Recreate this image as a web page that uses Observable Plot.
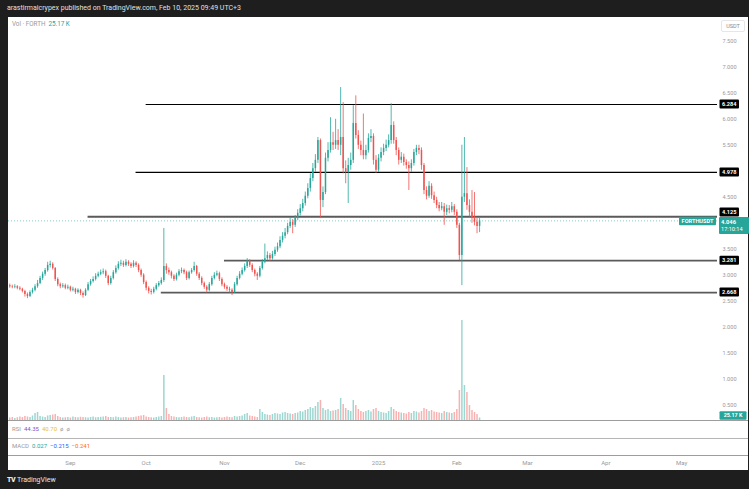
<!DOCTYPE html>
<html><head><meta charset="utf-8">
<script src="https://cdn.jsdelivr.net/npm/d3@7"></script>
<script src="https://cdn.jsdelivr.net/npm/@observablehq/plot@0.6"></script>
<style>
html,body{margin:0;padding:0}
body{width:749px;height:489px;background:#1e1e1e;position:relative;overflow:hidden;font-family:Roboto,"Liberation Sans",sans-serif;}
.abs{position:absolute}
#panel{left:8px;top:17px;width:740px;height:453px;background:#fff}
#hdr{left:7px;top:4px;font-size:7px;color:#e0e0e0;line-height:9px;white-space:nowrap}
#vol,#main,#time{left:8px}
#vol,#main{top:17px}
#time{top:455px}
#legend{left:12px;top:20px;font-size:6.3px;color:#9a9a9a;line-height:8px;white-space:nowrap}
#legend span{color:#26a69a;margin-left:3px}
#usdt{left:721px;top:20px;width:22px;height:10px;border:1px solid #e6e6e6;border-radius:2px;font-size:5.5px;color:#8a8a8a;text-align:center;line-height:10px;background:#fff}
.sep{left:8px;width:740px;height:1px;background:#9d9d9d}
.pane{left:12px;font-size:6px;line-height:8px;color:#9a9a9a;white-space:nowrap}
.pane span{margin-left:3px}
#foot{left:7px;top:475px;font-size:7px;color:#e8e8e8;line-height:10px;white-space:nowrap}
#foot b{font-weight:900;letter-spacing:-0.5px;margin-right:2px}
</style></head>
<body>
<div id="hdr" class="abs">arastirmaicrypex published on TradingView.com, Feb 10, 2025 09:49 UTC+3</div>
<div id="panel" class="abs"></div>
<div id="vol" class="abs"></div>
<div id="main" class="abs"></div>
<div id="legend" class="abs">Vol · FORTH<span>25.17 K</span></div>
<div id="usdt" class="abs">USDT</div>
<div class="sep abs" style="top:420px"></div>
<div class="sep abs" style="top:438px;background:#b5b5b5"></div>
<div class="sep abs" style="top:455px"></div>
<div class="pane abs" style="top:425px">RSI<span style="color:#7e57c2">44.35</span><span style="color:#e8c21c">40.70</span><span>ø</span><span>ø</span></div>
<div class="pane abs" style="top:442px">MACD<span style="color:#26a69a">0.027</span><span style="color:#2962ff">−0.215</span><span style="color:#ff6d00">−0.241</span></div>
<div id="time" class="abs"></div>
<div id="foot" class="abs"><b>TV</b>TradingView</div>
<script>
// ---------- data (daily candles FORTH/USDT, from 2024-08-08) ----------
const startDay = "2024-08-08";
const opens = [
 2.80,2.78,2.77,2.78,2.75,2.73,2.69,2.63,2.59,2.67,
 2.71,2.78,2.84,2.94,3.02,3.09,3.19,3.21,3.13,2.92,
 2.82,2.78,2.80,2.75,2.77,2.71,2.73,2.67,2.71,2.65,
 2.61,2.71,2.82,2.88,2.92,2.98,3.02,3.05,3.07,2.98,
 2.84,2.94,3.05,3.13,3.21,3.23,3.19,3.25,3.21,3.17,
 3.23,3.19,3.09,3.00,2.86,2.75,2.69,2.67,2.73,2.80,
 2.84,2.90,3.17,3.09,3.05,2.98,2.92,3.00,3.07,3.09,
 3.05,2.94,3.05,3.09,3.17,3.02,2.94,2.84,2.77,2.71,
 2.82,2.94,3.00,3.03,2.92,2.82,2.77,2.73,2.71,2.67,
 2.82,2.94,3.02,3.09,3.17,3.27,3.19,3.09,3.02,2.98,
 3.13,3.25,3.32,3.38,3.32,3.40,3.48,3.55,3.67,3.75,
 3.82,3.94,4.02,3.96,4.09,4.19,4.28,4.38,4.52,4.67,
 4.86,5.05,5.21,5.59,4.44,4.59,5.25,5.40,5.55,5.50,
 5.59,5.50,5.65,5.05,4.98,5.11,5.21,5.92,5.69,5.50,
 5.40,5.30,5.40,5.63,5.67,5.21,5.02,5.25,5.36,5.44,
 5.50,5.59,5.88,5.59,5.40,5.21,5.27,5.17,5.11,5.05,
 5.15,5.36,5.44,5.40,5.11,4.63,4.52,4.71,4.53,4.44,
 4.34,4.28,4.32,4.21,4.28,4.25,4.32,4.21,3.96,3.38,
 4.50,4.57,4.34,4.21,4.09,4.02,3.94];
const highs = [
 2.83,2.81,2.82,2.80,2.78,2.75,2.71,2.66,2.70,2.75,
 2.82,2.90,2.98,3.06,3.13,3.25,3.27,3.24,3.15,2.95,
 2.85,2.84,2.83,2.81,2.79,2.77,2.75,2.74,2.73,2.68,
 2.74,2.86,2.92,2.97,3.03,3.06,3.10,3.12,3.10,3.00,
 2.98,3.09,3.18,3.26,3.29,3.27,3.30,3.28,3.24,3.28,
 3.26,3.22,3.12,3.03,2.89,2.78,2.73,2.77,2.84,2.88,
 2.95,3.90,3.22,3.14,3.08,3.01,3.04,3.11,3.14,3.12,
 3.08,3.08,3.13,3.25,3.19,3.05,2.97,2.87,2.80,2.86,
 2.98,3.05,3.08,3.06,2.95,2.85,2.80,2.77,2.74,2.86,
 2.98,3.07,3.14,3.22,3.32,3.30,3.22,3.12,3.05,3.17,
 3.30,3.60,3.45,3.42,3.46,3.54,3.62,3.74,3.82,3.90,
 4.00,4.10,4.07,4.15,4.26,4.36,4.46,4.60,4.76,4.95,
 5.15,5.32,5.65,5.62,4.70,5.35,5.55,6.03,5.75,6.00,
 5.80,6.61,6.32,5.20,5.25,5.35,6.26,6.45,5.78,5.58,
 6.10,5.50,5.72,5.80,5.72,5.30,5.32,5.45,5.52,5.60,
 5.70,6.30,5.95,5.65,5.45,5.36,5.33,5.22,5.18,5.22,
 5.42,5.50,5.50,5.45,5.15,4.70,4.80,4.76,4.60,4.50,
 4.40,4.40,4.38,4.35,4.34,4.40,4.36,4.26,4.00,5.50,
 5.65,5.07,4.45,4.63,4.59,4.10,4.10];
const lows = [
 2.75,2.74,2.74,2.72,2.70,2.66,2.58,2.55,2.57,2.64,
 2.68,2.75,2.82,2.90,2.98,3.06,3.14,3.10,2.88,2.78,
 2.74,2.75,2.72,2.72,2.68,2.68,2.63,2.64,2.61,2.56,
 2.59,2.69,2.79,2.85,2.89,2.95,2.99,3.01,2.94,2.80,
 2.81,2.91,3.02,3.10,3.17,3.15,3.16,3.17,3.13,3.14,
 3.15,3.05,2.96,2.82,2.70,2.64,2.62,2.64,2.70,2.77,
 2.81,2.86,3.02,3.00,2.93,2.88,2.89,2.97,3.03,3.01,
 2.90,2.91,3.02,3.06,2.98,2.90,2.80,2.73,2.66,2.68,
 2.79,2.91,2.97,2.88,2.78,2.73,2.69,2.66,2.61,2.65,
 2.79,2.91,2.99,3.06,3.13,3.15,3.05,2.97,2.90,2.95,
 3.10,3.22,3.28,3.27,3.29,3.36,3.44,3.51,3.62,3.70,
 3.78,3.90,3.80,3.92,4.05,4.14,4.22,4.33,4.47,4.60,
 4.80,4.98,5.15,4.09,4.30,4.55,5.18,5.35,5.40,5.42,
 5.40,5.30,4.95,4.76,4.38,5.02,5.15,5.62,5.42,5.30,
 5.22,5.22,5.35,5.55,5.12,4.96,4.98,5.18,5.30,5.38,
 5.45,5.52,5.52,5.30,5.12,5.15,5.10,5.04,4.63,4.98,
 5.10,5.30,5.32,5.02,4.55,4.45,4.48,4.46,4.38,4.28,
 4.22,4.24,3.96,4.15,4.18,4.20,4.15,3.90,3.28,2.80,
 4.40,4.25,4.12,4.00,3.95,3.80,3.82];
const closes = [
 2.78,2.77,2.78,2.75,2.73,2.69,2.63,2.59,2.67,2.71,
 2.78,2.84,2.94,3.02,3.09,3.19,3.21,3.13,2.92,2.82,
 2.78,2.80,2.75,2.77,2.71,2.73,2.67,2.71,2.65,2.61,
 2.71,2.82,2.88,2.92,2.98,3.02,3.05,3.07,2.98,2.84,
 2.94,3.05,3.13,3.21,3.23,3.19,3.25,3.21,3.17,3.23,
 3.19,3.09,3.00,2.86,2.75,2.69,2.67,2.73,2.80,2.84,
 2.90,3.17,3.09,3.05,2.98,2.92,3.00,3.07,3.09,3.05,
 2.94,3.05,3.09,3.17,3.02,2.94,2.84,2.77,2.71,2.82,
 2.94,3.00,3.03,2.92,2.82,2.77,2.73,2.71,2.67,2.82,
 2.94,3.02,3.09,3.17,3.27,3.19,3.09,3.02,2.98,3.13,
 3.25,3.32,3.38,3.32,3.40,3.48,3.55,3.67,3.75,3.82,
 3.94,4.02,3.96,4.09,4.19,4.28,4.38,4.52,4.67,4.86,
 5.05,5.21,5.59,4.44,4.59,5.25,5.40,5.55,5.50,5.59,
 5.50,5.65,5.05,4.98,5.11,5.21,5.92,5.69,5.50,5.40,
 5.30,5.40,5.63,5.67,5.21,5.02,5.25,5.36,5.44,5.50,
 5.59,5.88,5.59,5.40,5.21,5.27,5.17,5.11,5.05,5.15,
 5.36,5.44,5.40,5.11,4.63,4.52,4.71,4.53,4.44,4.34,
 4.28,4.32,4.21,4.28,4.25,4.32,4.21,3.96,3.38,4.50,
 4.57,4.34,4.21,4.09,4.02,3.94,4.046];
// volume in thousands (K)
const volumes = [
 25,30,20,28,35,30,40,35,30,45,
 70,80,40,35,30,45,50,55,60,40,
 30,25,28,30,25,35,30,28,32,30,
 28,25,30,35,28,30,32,35,40,30,
 30,28,35,30,25,28,30,25,28,30,
 35,40,45,50,35,30,28,25,30,35,
 40,450,120,60,40,35,30,28,30,35,
 30,28,35,40,30,28,25,30,35,28,
 30,25,28,30,25,30,35,30,28,40,
 35,40,45,60,70,45,40,35,30,110,
 80,60,55,50,60,70,65,60,75,80,
 70,65,60,70,75,90,85,100,110,130,
 120,140,180,200,120,100,110,90,95,100,
 110,220,160,120,100,90,200,150,110,90,
 80,90,100,85,110,120,90,80,75,70,
 90,130,110,90,80,75,70,65,80,70,
 90,85,75,90,120,110,90,100,85,80,
 75,70,90,80,75,70,80,110,300,1000,
 350,280,150,100,80,60,25.17];
const levelPrices = [6.284, 4.978, 4.125, 3.281, 2.668];
const levelStarts = ["2024-10-01","2024-09-27","2024-09-08","2024-11-01","2024-10-07"];
const lastPrice = 4.046;
const lastVolumeLabel = "25.17 K";
const countdown = "17:10:14";
const priceTicks = [7.5,7,6.5,6,5.5,4.5,3.5,3,2.5,2,1.5,1,0.5];
const monthTicks = ["2024-09-01","2024-10-01","2024-11-01","2024-12-01","2025-01-01","2025-02-01","2025-03-01","2025-04-01","2025-05-01"];
const monthLabels = ["Sep","Oct","Nov","Dec","2025","Feb","Mar","Apr","May"];

// ---------- build ----------
const DAY = 864e5;
const t0 = new Date(startDay + "T00:00:00Z").getTime();
const candles = closes.map((c, i) => ({
  date: new Date(t0 + i * DAY), open: opens[i], high: highs[i], low: lows[i], close: c, volume: volumes[i]
}));
const UP = "#26a69a", DOWN = "#ef5350";
const col = d => d.close >= d.open ? UP : DOWN;
const xDomain = [new Date(t0 - 0.5 * DAY), new Date(t0 + 280.2 * DAY)];
const levels = levelPrices.map((p, i) => ({price: p, start: new Date(levelStarts[i] + "T00:00:00Z"), heavy: i >= 2}));
const FONT = "Roboto, 'Liberation Sans', sans-serif";
const W = 740, H = 403, MR = 31;
const NS = "http://www.w3.org/2000/svg";
function el(tag, attrs, text) {
  const e = document.createElementNS(NS, tag);
  for (const k in attrs) e.setAttribute(k, attrs[k]);
  if (text != null) e.textContent = text;
  return e;
}
function tag(g, x, yc, w, h, fill, label, fs) {
  g.appendChild(el("rect", {x, y: yc - h / 2, width: w, height: h, fill, rx: 1}));
  g.appendChild(el("text", {x: x + w / 2, y: yc, "text-anchor": "middle", dy: "0.36em", fill: "#fff",
    "font-size": fs, "font-weight": "bold", "font-family": FONT}, label));
}
const priceTags = (index, scales, values, dims) => {
  const g = el("g", {});
  const x0 = dims.width - dims.marginRight;
  const yLast = scales.y(lastPrice);
  const greenTop = yLast - 3.5;
  levelPrices.forEach(p => {
    let yc = scales.y(p);
    if (Math.abs(yc - yLast) < 10 && p > lastPrice) yc = greenTop - 5;
    tag(g, x0 + 2.5, yc, 19.5, 9, "#000", d3.format(".3f")(p), 5.6);
  });
  // current price box on axis
  g.appendChild(el("rect", {x: x0 + 2, y: greenTop, width: 30, height: 17, fill: UP, rx: 1}));
  g.appendChild(el("text", {x: x0 + 4, y: greenTop + 5, dy: "0.36em", "text-anchor": "start", fill: "#fff", "font-size": 5.8, "font-weight": "bold", "font-family": FONT}, d3.format(".3f")(lastPrice)));
  g.appendChild(el("text", {x: x0 + 4, y: greenTop + 12, dy: "0.36em", "text-anchor": "start", fill: "#fff", "font-size": 5.6, "font-family": FONT}, countdown));
  // symbol tag left of axis
  tag(g, x0 - 38, yLast + 0.5, 37, 8.5, UP, "FORTHUSDT", 5.6);
  return g;
};
const volTag = (index, scales, values, dims) => {
  const g = el("g", {});
  const x0 = dims.width - dims.marginRight;
  const yv = Math.min(scales.y(volumes[volumes.length - 1]), dims.height - dims.marginBottom - 4.5);
  tag(g, x0 + 2.5, yv, 27, 8.5, UP, lastVolumeLabel, 5.4);
  return g;
};

const volPlot = Plot.plot({
  width: W, height: H, marginTop: 0, marginBottom: 0, marginLeft: 0, marginRight: MR,
  x: {type: "utc", domain: xDomain, axis: null},
  y: {domain: [0, 4030], axis: null},
  style: {background: "#fff", overflow: "visible", fontFamily: FONT},
  marks: [
    Plot.ruleX(candles, {x: "date", y1: 0, y2: "volume", stroke: col, strokeOpacity: 0.45, strokeWidth: 1.5}),
    volTag
  ]
});
document.getElementById("vol").appendChild(volPlot);

const mainPlot = Plot.plot({
  width: W, height: H, marginTop: 0, marginBottom: 0, marginLeft: 0, marginRight: MR,
  x: {type: "utc", domain: xDomain, axis: null},
  y: {domain: [0.2071, 7.9571], axis: null},
  style: {background: "transparent", overflow: "visible", fontFamily: FONT, color: "#9a9a9a"},
  marks: [
    Plot.ruleY([lastPrice], {stroke: UP, strokeWidth: 0.7, strokeOpacity: 0.8, strokeDasharray: "1,2"}),
    Plot.ruleY(levels, {y: "price", x1: "start", x2: () => xDomain[1],
      stroke: d => d.heavy ? "#5a5a5a" : "#000", strokeWidth: d => d.heavy ? 1.8 : 1.2}),
    Plot.ruleX(candles, {x: "date", y1: "low", y2: "high", stroke: col, strokeWidth: 0.8}),
    Plot.ruleX(candles, {x: "date", y1: "open", y2: "close", stroke: col, strokeWidth: 1.5}),
    Plot.axisY(priceTicks, {anchor: "right", tickSize: 0, tickPadding: 5, fontSize: 5.6,
      tickFormat: d3.format(".3f"), color: "#9a9a9a"}),
    priceTags
  ]
});
document.getElementById("main").appendChild(mainPlot);

const tickDates = monthTicks.map(s => new Date(s + "T00:00:00Z"));
const labelOf = new Map(tickDates.map((d, i) => [+d, monthLabels[i]]));
const timePlot = Plot.plot({
  width: W, height: 15, marginTop: 0, marginBottom: 15, marginLeft: 0, marginRight: MR,
  x: {type: "utc", domain: xDomain, axis: null},
  style: {background: "transparent", overflow: "visible", fontFamily: FONT, color: "#9a9a9a"},
  marks: [
    Plot.axisX(tickDates, {anchor: "bottom", tickSize: 0, tickPadding: 5, fontSize: 6,
      tickFormat: d => labelOf.get(+d), color: "#9a9a9a"})
  ]
});
document.getElementById("time").appendChild(timePlot);
</script>
</body></html>
